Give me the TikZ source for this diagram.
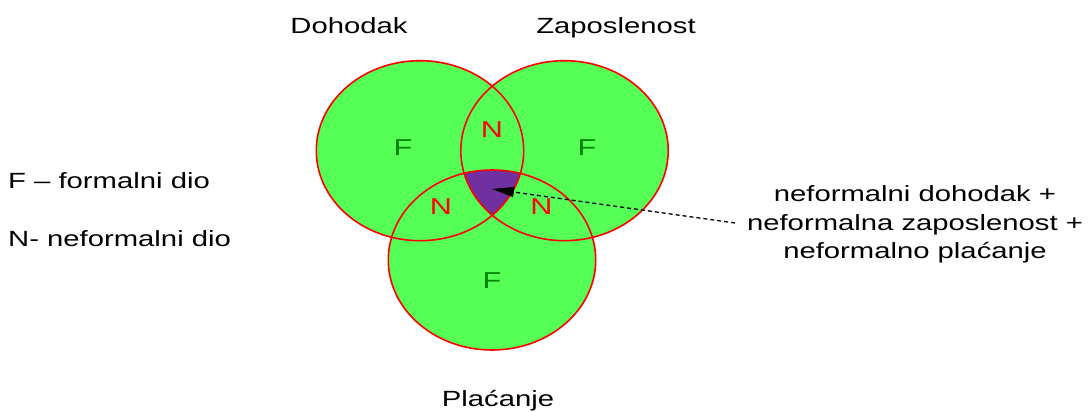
\documentclass[tikz,border=0pt]{standalone}
\usepackage{fontspec}
\setmainfont{Liberation Sans}[FakeStretch=1.33]
\usetikzlibrary{arrows.meta}
\definecolor{vgreen}{RGB}{85,255,85}
\definecolor{vred}{RGB}{255,0,0}
\definecolor{vpurple}{RGB}{112,48,160}
\definecolor{fgreen}{RGB}{0,128,0}
\tikzset{
  setc/.style={draw=vred, line width=1.6pt},
  txt/.style={inner sep=0pt, font=\fontsize{22}{28.3}\selectfont, text=black},
  flab/.style={inner sep=0pt, font=\fontsize{23}{26}\selectfont, text=fgreen},
  nlab/.style={inner sep=0pt, font=\fontsize{23}{26}\selectfont, text=vred},
  pointer/.style={black, line width=1.3pt, dash pattern=on 4pt off 3pt, -{Triangle[length=22pt,width=10pt]}}
}
\begin{document}
\begin{tikzpicture}[x=1pt,y=-1pt]
\useasboundingbox (0,0) rectangle (1089,412);
% fills
\fill[vgreen] (420,150.7) ellipse [x radius=103.7pt, y radius=90pt];
\fill[vgreen] (564.5,150.7) ellipse [x radius=103.7pt, y radius=90pt];
\fill[vgreen] (492,260) ellipse [x radius=103.7pt, y radius=90pt];
\begin{scope}
  \clip (420,150.7) ellipse [x radius=103.7pt, y radius=90pt];
  \clip (564.5,150.7) ellipse [x radius=103.7pt, y radius=90pt];
  \fill[vpurple] (492,260) ellipse [x radius=103.7pt, y radius=90pt];
\end{scope}
% outlines
\draw[setc] (420,150.7) ellipse [x radius=103.7pt, y radius=90pt];
\draw[setc] (564.5,150.7) ellipse [x radius=103.7pt, y radius=90pt];
\draw[setc] (492,260) ellipse [x radius=103.7pt, y radius=90pt];
% region labels
\node[flab] (f1) at (403,148) {F};
\node[flab] (f2) at (587,148) {F};
\node[flab] (f3) at (492,281) {F};
\node[nlab] (n12) at (492,130) {N};
\node[nlab] (n13) at (441,206.7) {N};
\node[nlab] (n23) at (541.5,206.7) {N};
% set names
\node[txt, anchor=base] (dohodak) at (349,34) {Dohodak};
\node[txt, anchor=base] (zaposlenost) at (616,34) {Zaposlenost};
\node[txt, anchor=base] (placanje) at (498,406) {Plaćanje};
% legend
\node[txt, anchor=base west] (legf) at (8,188) {F – formalni dio};
\node[txt, anchor=base west] (legn) at (8,246) {N- neformalni dio};
% description
\node[txt, align=center, anchor=base] (desc) at (915,258.3) {neformalni dohodak +\\neformalna zaposlenost +\\neformalno plaćanje};
\coordinate (tail) at (735,223);
\coordinate (tip) at (492,189);
\draw[pointer] (tail) -- (tip);
\end{tikzpicture}
\end{document}
